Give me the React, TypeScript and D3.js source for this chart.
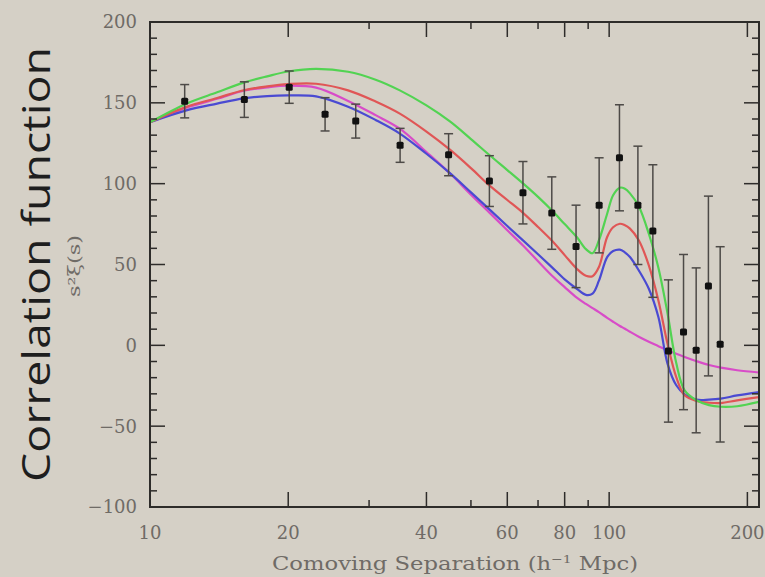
import React from "react";
import * as d3 from "d3";

// ---- data ----
const sepGrid = [10, 12, 14, 16, 18, 20, 23, 27, 31, 35, 40, 45, 50, 55, 60, 65, 70, 75, 80, 85, 89, 92, 95, 99, 102, 105.5, 108, 111, 116, 122, 128, 134, 140, 146, 155, 165, 175, 190, 212];
const greenModel = [138, 149.5, 156.5, 162.5, 166.4, 169.4, 171, 169.2, 164.3, 157.7, 148.4, 138.5, 127.6, 117.4, 108.4, 100, 91.8, 83.5, 75, 67, 59.5, 57, 65, 81.4, 92.8, 97.5, 97, 94, 86, 69, 48, 19.8, -11, -27.8, -34, -37, -38, -37.7, -35];
const redModel = [138, 147.5, 153, 157.8, 160.2, 161.6, 161.8, 157.7, 150.8, 143.3, 132.2, 121, 109.6, 98.6, 89.9, 81.8, 73.2, 64.8, 55.8, 47.4, 43, 42.8, 48.4, 67, 73, 75.2, 74.4, 72.2, 65, 49.5, 27.8, 1, -19.6, -30.9, -34.4, -35.5, -35.7, -34, -32];
const blueModel = [138, 145.3, 149.5, 152.8, 154.2, 154.6, 154, 147.6, 139.4, 131, 118.5, 106.5, 94.6, 83.8, 73.8, 64.8, 56.3, 48.4, 40.8, 35, 31.2, 32, 40, 54.6, 58.3, 59.2, 57.7, 54.6, 46.4, 35, 17.5, -11.3, -24.7, -30.3, -33.6, -33.6, -33, -31, -28.9];
const magentaModel = [138, 147, 152.5, 157.5, 159.6, 160.6, 159.4, 151.2, 142.4, 134, 119.6, 106.4, 93.2, 81.8, 71.2, 61.6, 52, 43.2, 36, 29.5, 25.6, 23, 20.5, 17, 14.6, 12, 10.4, 8.4, 5.3, 2.2, -0.5, -3, -5.2, -7.2, -9.8, -12.2, -13.8, -15.4, -16.8];

const obsSep = [11.9, 16.05, 20.1, 24.06, 28.06, 35.05, 44.7, 54.85, 64.9, 75.0, 84.7, 95.1, 105.3, 115.5, 124.5, 134.6, 145.2, 154.7, 164.5, 174.5];
const obsXi = [151, 152, 159.7, 142.9, 138.7, 123.7, 117.9, 101.6, 94.4, 81.8, 61.2, 86.6, 116, 86.6, 70.7, -3.5, 8.2, -3.1, 36.7, 0.6];
const obsErr = [10.3, 11, 10, 10.3, 10.5, 10.5, 13, 15.7, 19.3, 22.4, 25.5, 29.4, 32.8, 36.6, 41, 44, 48, 51, 55.6, 60.4];

const xMajorTicks = [20, 40, 60, 80, 100, 200];
const xMinorTicks = [30, 50, 70, 90];
const xTickLabels = [10, 20, 40, 60, 80, 100, 200];
const yMajorTicks = [-100, -50, 0, 50, 100, 150, 200];

const models = [
  { name: "magenta", values: magentaModel, color: "#d84cc8" },
  { name: "blue", values: blueModel, color: "#4a4ad2" },
  { name: "red", values: redModel, color: "#e05656" },
  { name: "green", values: greenModel, color: "#52d352" },
];

const W = 765;
const H = 577;
const L = 150, R = 759, T = 22, B = 507;

export default function App() {
  const x = d3.scaleLog().domain([10, 212]).range([L, R]);
  const y = d3.scaleLinear().domain([-100, 200]).range([B, T]);
  const line = d3
    .line<number>()
    .x((_, i) => x(sepGrid[i]))
    .y((v) => y(v))
    .curve(d3.curveCatmullRom.alpha(0.5));

  const yMinor = d3.range(-100, 201, 10).filter((v) => v % 50 !== 0);
  const axisColor = "#2e2c2a";
  const labelColor = "#6f6b66";
  const serif = "'DejaVu Serif', serif";

  return (
    <svg width={W} height={H} style={{ position: "absolute", left: 0, top: 0, background: "#d5d0c6" }}>
      <defs>
        <clipPath id="clip">
          <rect x={L} y={T} width={R - L} height={B - T} />
        </clipPath>
      </defs>
      <rect x={0} y={0} width={W} height={H} fill="#d5d0c6" />
      {/* big label */}
      <text
        transform={`translate(50,482) rotate(-90)`}
        fontFamily="'Open Sans', 'DejaVu Sans', sans-serif"
        fontSize={38}
        fill="#1e1e1e"
        textLength={435}
        lengthAdjust="spacingAndGlyphs"
      >
        Correlation function
      </text>
      <text
        transform={`translate(80,266) rotate(-90)`}
        fontFamily={serif}
        fontSize={16}
        fill={labelColor}
        textAnchor="middle"
        textLength={62}
        lengthAdjust="spacingAndGlyphs"
      >
        s²ξ(s)
      </text>

      {/* curves */}
      <g clipPath="url(#clip)">
        {models.map((m) => (
          <path key={m.name} d={line(m.values) || ""} fill="none" stroke={m.color} strokeWidth={2.2} />
        ))}
      </g>

      {/* error bars and points */}
      {obsSep.map((s, i) => {
        const cx = x(s);
        const y0 = y(obsXi[i] - obsErr[i]);
        const y1 = y(obsXi[i] + obsErr[i]);
        return (
          <g key={i} stroke="#4d4a47" strokeWidth={1.5}>
            <line x1={cx} x2={cx} y1={y0} y2={y1} />
            <line x1={cx - 4.5} x2={cx + 4.5} y1={y0} y2={y0} />
            <line x1={cx - 4.5} x2={cx + 4.5} y1={y1} y2={y1} />
            <rect x={cx - 3.5} y={y(obsXi[i]) - 3.5} width={7} height={7} fill="#111" stroke="none" rx={1.5} />
          </g>
        );
      })}

      {/* frame */}
      <rect x={L} y={T} width={R - L} height={B - T} fill="none" stroke={axisColor} strokeWidth={2} />

      {/* y ticks */}
      {yMajorTicks.map((v) => (
        <g key={"ym" + v} stroke={axisColor} strokeWidth={1.5}>
          <line x1={L} x2={L + 15} y1={y(v)} y2={y(v)} />
          <line x1={R} x2={R - 15} y1={y(v)} y2={y(v)} />
        </g>
      ))}
      {yMinor.map((v) => (
        <g key={"yn" + v} stroke={axisColor} strokeWidth={1.5}>
          <line x1={L} x2={L + 7} y1={y(v)} y2={y(v)} />
          <line x1={R} x2={R - 7} y1={y(v)} y2={y(v)} />
        </g>
      ))}
      {yMajorTicks.map((v) => (
        <text
          key={"yl" + v}
          x={137}
          y={y(v)}
          dy="0.36em"
          textAnchor="end"
          fontFamily={serif}
          fontSize={18}
          fill={labelColor}
        >
          {v < 0 ? "\u2212" + Math.abs(v) : v}
        </text>
      ))}

      {/* x ticks */}
      {xMajorTicks.map((v) => (
        <g key={"xm" + v} stroke={axisColor} strokeWidth={1.5}>
          <line x1={x(v)} x2={x(v)} y1={B} y2={B - 15} />
          <line x1={x(v)} x2={x(v)} y1={T} y2={T + 15} />
        </g>
      ))}
      {xMinorTicks.map((v) => (
        <g key={"xn" + v} stroke={axisColor} strokeWidth={1.5}>
          <line x1={x(v)} x2={x(v)} y1={B} y2={B - 7} />
          <line x1={x(v)} x2={x(v)} y1={T} y2={T + 7} />
        </g>
      ))}
      {xTickLabels.map((v) => (
        <text
          key={"xl" + v}
          x={x(v)}
          y={539}
          textAnchor="middle"
          fontFamily={serif}
          fontSize={18}
          fill={labelColor}
        >
          {v}
        </text>
      ))}
      <text x={272} y={570} fontFamily={serif} fontSize={18} fill={labelColor} textLength={366} lengthAdjust="spacingAndGlyphs">
        Comoving Separation (h
        <tspan fontSize={11} dy={-7}>−1</tspan>
        <tspan dy={7}> Mpc)</tspan>
      </text>
    </svg>
  );
}
